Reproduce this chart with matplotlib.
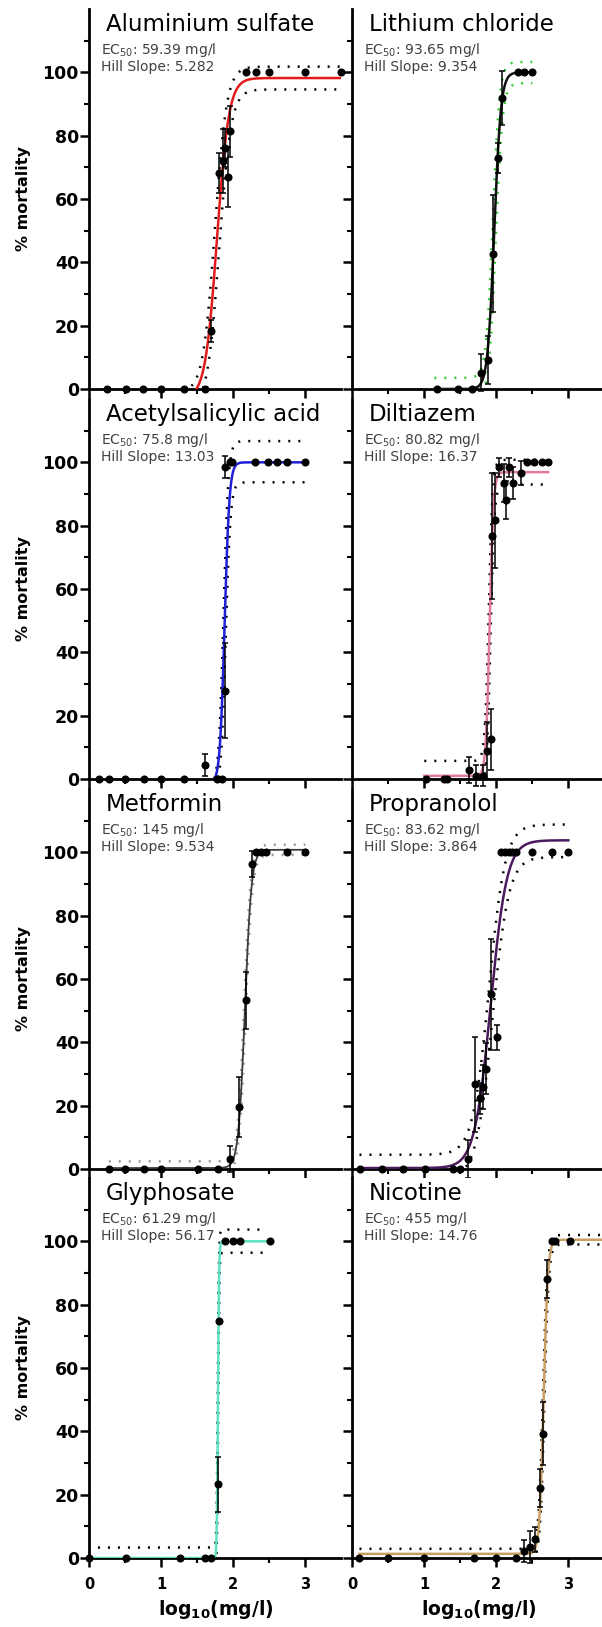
import numpy as np
import matplotlib.pyplot as plt
from matplotlib.ticker import FixedLocator

plt.rcParams['font.family'] = 'DejaVu Sans'
plt.rcParams['mathtext.fontset'] = 'dejavusans'

# ---- panel info (order: row by row, left then right) ----
names = ["Aluminium sulfate", "Lithium chloride", "Acetylsalicylic acid", "Diltiazem",
         "Metformin", "Propranolol", "Glyphosate", "Nicotine"]
ec50_text = ["59.39", "93.65", "75.8", "80.82", "145", "83.62", "61.29", "455"]
hill_text = ["5.282", "9.354", "13.03", "16.37", "9.534", "3.864", "56.17", "14.76"]
ec50 = [59.39, 93.65, 75.8, 80.82, 145, 83.62, 61.29, 455]
hill = [5.282, 9.354, 13.03, 16.37, 9.534, 3.864, 56.17, 14.76]

# fitted plateaus
fit_bottom = [-3.0, 0.0, -1.5, 1.0, 0.3, 0.3, 0.0, 1.3]
fit_top = [98.2, 100.0, 100.0, 96.9, 100.8, 103.8, 100.0, 100.5]
curve_span = [(1.0, 3.5), (1.14, 2.5), (1.5, 3.0), (1.0, 2.72),
              (0.27, 3.0), (0.1, 3.0), (0.0, 2.5), (0.1, 3.6)]

# 95% confidence bands
band_hi_bottom = [-1.0, 3.5, -2.0, 5.7, 2.4, 4.5, 3.3, 2.9]
band_hi_top = [101.8, 103.3, 106.7, 100.8, 102.4, 108.8, 103.7, 102.0]
band_lo_bottom = [-6.0, -3.0, -4.0, -3.0, -1.5, -3.0, -3.0, -0.3]
band_lo_top = [94.6, 96.6, 93.7, 93.0, 99.2, 98.5, 96.4, 99.0]
band_shift = [0.03, 0.02, 0.015, 0.012, 0.01, 0.025, 0.003, 0.01]
band_span = [(1.3, 3.5), (1.14, 2.5), (1.5, 3.0), (1.0, 2.65),
             (0.27, 3.0), (0.1, 3.0), (0.12, 2.44), (0.1, 3.6)]

curve_colors = ["#e31a1c", "#111111", "#1f1fd6", "#e07b9b",
                "#3c3c3c", "#4a1a5c", "#5fe0c0", "#c9a063"]
band_colors = ["black", "#33cc33", "black", "black",
               "#9a9a9a", "black", "black", "black"]
curve_widths = [1.8, 1.8, 1.8, 1.8, 1.3, 1.8, 1.8, 1.8]

# ---- measured mortality: log10(mg/l), mean %, SD ----
aluminium_x = [0.25, 0.51, 0.75, 1.0, 1.31, 1.61, 1.69, 1.80, 1.86, 1.89, 1.92, 1.96,
               2.18, 2.31, 2.50, 3.0, 3.49]
aluminium_y = [0, 0, 0, 0, 0, 0, 18.3, 68.2, 72.0, 76.0, 67.0, 81.4,
               100, 100, 100, 100, 100]
aluminium_sd = [0, 0, 0, 0, 0, 0, 3.4, 6.3, 10.0, 6.0, 9.5, 8.0, 0, 0, 0, 0, 0]

lithium_x = [1.18, 1.47, 1.66, 1.79, 1.89, 1.95, 2.03, 2.08, 2.30, 2.39, 2.50]
lithium_y = [0, 0, 0, 5.2, 9.1, 42.7, 73.0, 92.0, 100, 100, 100]
lithium_sd = [0, 0, 0, 5.8, 7.5, 18.5, 4.7, 8.5, 0, 0, 0]

asa_x = [0.14, 0.27, 0.50, 0.76, 1.0, 1.31, 1.60, 1.77, 1.84, 1.88, 1.89, 1.95, 1.98,
         2.30, 2.48, 2.60, 2.75, 3.0]
asa_y = [0, 0, 0, 0, 0, 0, 4.4, 0, 0, 98.4, 27.9, 100, 100, 100, 100, 100, 100, 100]
asa_sd = [0, 0, 0, 0, 0, 0, 3.5, 0, 0, 3.5, 15.0, 0, 0, 0, 0, 0, 0, 0]

diltiazem_x = [1.02, 1.27, 1.32, 1.625, 1.72, 1.81, 1.87, 1.93, 1.94, 1.98, 2.04, 2.10,
               2.14, 2.18, 2.23, 2.34, 2.42, 2.52, 2.63, 2.72]
diltiazem_y = [0, 0, 0, 2.8, 1.0, 1.0, 8.9, 12.5, 76.7, 81.7, 98.4, 93.4,
               88.2, 98.4, 93.4, 96.6, 100, 100, 100, 100]
diltiazem_sd = [0, 0, 0, 4.0, 3.3, 3.3, 9.0, 9.5, 20.0, 15.0, 3.0, 6.0,
                6.0, 3.0, 5.0, 3.7, 0, 0, 0, 0]

metformin_x = [0.27, 0.50, 0.76, 1.0, 1.51, 1.79, 1.96, 2.08, 2.17, 2.26, 2.32, 2.38,
               2.46, 2.75, 3.0]
metformin_y = [0, 0, 0, 0, 0, 0, 3.2, 19.7, 53.3, 96.3, 100, 100, 100, 100, 100]
metformin_sd = [0, 0, 0, 0, 0, 0, 4.0, 9.5, 9.0, 4.0, 0, 0, 0, 0, 0]

propranolol_x = [0.11, 0.41, 0.71, 1.01, 1.40, 1.49, 1.60, 1.70, 1.78, 1.81, 1.85, 1.92,
                 2.01, 2.06, 2.12, 2.17, 2.22, 2.27, 2.49, 2.78, 2.99]
propranolol_y = [0, 0, 0, 0, 0, 0, 3.2, 26.8, 22.3, 26.0, 31.7, 55.2,
                 41.6, 100, 100, 100, 100, 100, 100, 100, 100]
propranolol_sd = [0, 0, 0, 0, 0, 0, 6.0, 15.0, 5.0, 7.0, 8.0, 17.5,
                  4.0, 0, 0, 0, 0, 0, 0, 0, 0]

glyphosate_x = [0.0, 0.51, 1.26, 1.60, 1.69, 1.79, 1.80, 1.88, 2.0, 2.09, 2.51]
glyphosate_y = [0, 0, 0, 0, 0, 23.3, 75.0, 100, 100, 100, 100]
glyphosate_sd = [0, 0, 0, 0, 0, 8.7, 0, 0, 0, 0, 0]

nicotine_x = [0.09, 0.49, 1.0, 1.69, 1.99, 2.28, 2.39, 2.47, 2.54, 2.60, 2.65, 2.70,
              2.78, 2.82, 3.02]
nicotine_y = [0, 0, 0, 0, 0, 0, 2.2, 3.5, 5.9, 22.0, 39.3, 88.0, 100, 100, 100]
nicotine_sd = [0, 0, 0, 0, 0, 0, 3.5, 5.0, 4.0, 6.0, 10.0, 6.0, 0, 0, 0]

measured = [(aluminium_x, aluminium_y, aluminium_sd),
            (lithium_x, lithium_y, lithium_sd),
            (asa_x, asa_y, asa_sd),
            (diltiazem_x, diltiazem_y, diltiazem_sd),
            (metformin_x, metformin_y, metformin_sd),
            (propranolol_x, propranolol_y, propranolol_sd),
            (glyphosate_x, glyphosate_y, glyphosate_sd),
            (nicotine_x, nicotine_y, nicotine_sd)]


def hill_curve(x, bottom, top, log_ec50, slope):
    # four-parameter logistic (variable slope)
    return bottom + (top - bottom) / (1 + 10 ** ((log_ec50 - x) * slope))


W, H = 602, 1627
fig = plt.figure(figsize=(W / 100, H / 100), dpi=100)

col_left = [89.3, 352.3]
row_zero = [389, 779, 1169, 1558]
ax_w, ax_h = 252, 380

for i, name in enumerate(names):
    r, c = divmod(i, 2)
    ax = fig.add_axes([col_left[c] / W, 1 - row_zero[r] / H, ax_w / W, ax_h / H])
    ax.set_xlim(0, 3.5)
    ax.set_ylim(0, 120)
    log_ec = np.log10(ec50[i])

    # confidence bands
    xb = np.linspace(band_span[i][0], band_span[i][1], 500)
    ax.plot(xb, hill_curve(xb, band_hi_bottom[i], band_hi_top[i], log_ec - band_shift[i], hill[i]),
            color=band_colors[i], lw=1.8, ls=(0, (0.8, 3.2)), zorder=2)
    ax.plot(xb, hill_curve(xb, band_lo_bottom[i], band_lo_top[i], log_ec + band_shift[i], hill[i]),
            color=band_colors[i], lw=1.8, ls=(0, (0.8, 3.2)), zorder=2)

    # fitted curve
    xc = np.linspace(curve_span[i][0], curve_span[i][1], 800)
    ax.plot(xc, hill_curve(xc, fit_bottom[i], fit_top[i], log_ec, hill[i]),
            color=curve_colors[i], lw=curve_widths[i], zorder=3)

    # measured points with SD
    mx, my, msd = (np.array(v, dtype=float) for v in measured[i])
    has_err = msd > 0
    ax.errorbar(mx[has_err], my[has_err], yerr=msd[has_err], fmt='none', ecolor='black',
                elinewidth=1.1, capsize=2.2, capthick=1.1, zorder=4, clip_on=False)
    ax.plot(mx, my, 'o', color='black', ms=4.8, zorder=5, clip_on=False)

    # labels inside the panel
    ax.text(0.235, 115, name, fontsize=16.5, ha='left', va='center')
    ax.text(0.165, 107.0, r"EC$_{\mathrm{50}}$: " + ec50_text[i] + " mg/l",
            fontsize=10, color='#404040', ha='left', va='center')
    ax.text(0.165, 101.6, "Hill Slope: " + hill_text[i],
            fontsize=10, color='#404040', ha='left', va='center')

    # axes styling
    for side in ['top', 'right']:
        ax.spines[side].set_visible(False)
    for side in ['left', 'bottom']:
        ax.spines[side].set_linewidth(2)
    ax.xaxis.set_major_locator(FixedLocator([0, 1, 2, 3]))
    ax.xaxis.set_minor_locator(FixedLocator([0.5, 1.5, 2.5]))
    ax.yaxis.set_major_locator(FixedLocator([0, 20, 40, 60, 80, 100]))
    ax.yaxis.set_minor_locator(FixedLocator([10, 30, 50, 70, 90, 110]))
    ax.tick_params(which='major', direction='out', length=6.5, width=1.8, pad=1)
    ax.tick_params(which='minor', direction='out', length=3.8, width=1.5)
    ax.tick_params(axis='x', which='major', pad=7)
    ax.tick_params(axis='y', labelsize=12.5)
    ax.tick_params(axis='x', labelsize=10.5)
    for lbl in ax.get_xticklabels() + ax.get_yticklabels():
        lbl.set_fontweight('bold')

    if c == 0:
        ax.set_ylabel("% mortality", fontsize=11.5, fontweight='bold')
        ax.yaxis.set_label_coords(-0.23, 0.5)
    else:
        ax.tick_params(axis='y', labelleft=False)

    if r < 3:
        ax.tick_params(axis='x', labelbottom=False)
    else:
        ax.set_xlabel(r"log$_{\mathbf{10}}$(mg/l)", fontsize=13.5, fontweight='bold')
        ax.xaxis.set_label_coords(0.5, -0.105)

fig.savefig("out.png", dpi=100)
